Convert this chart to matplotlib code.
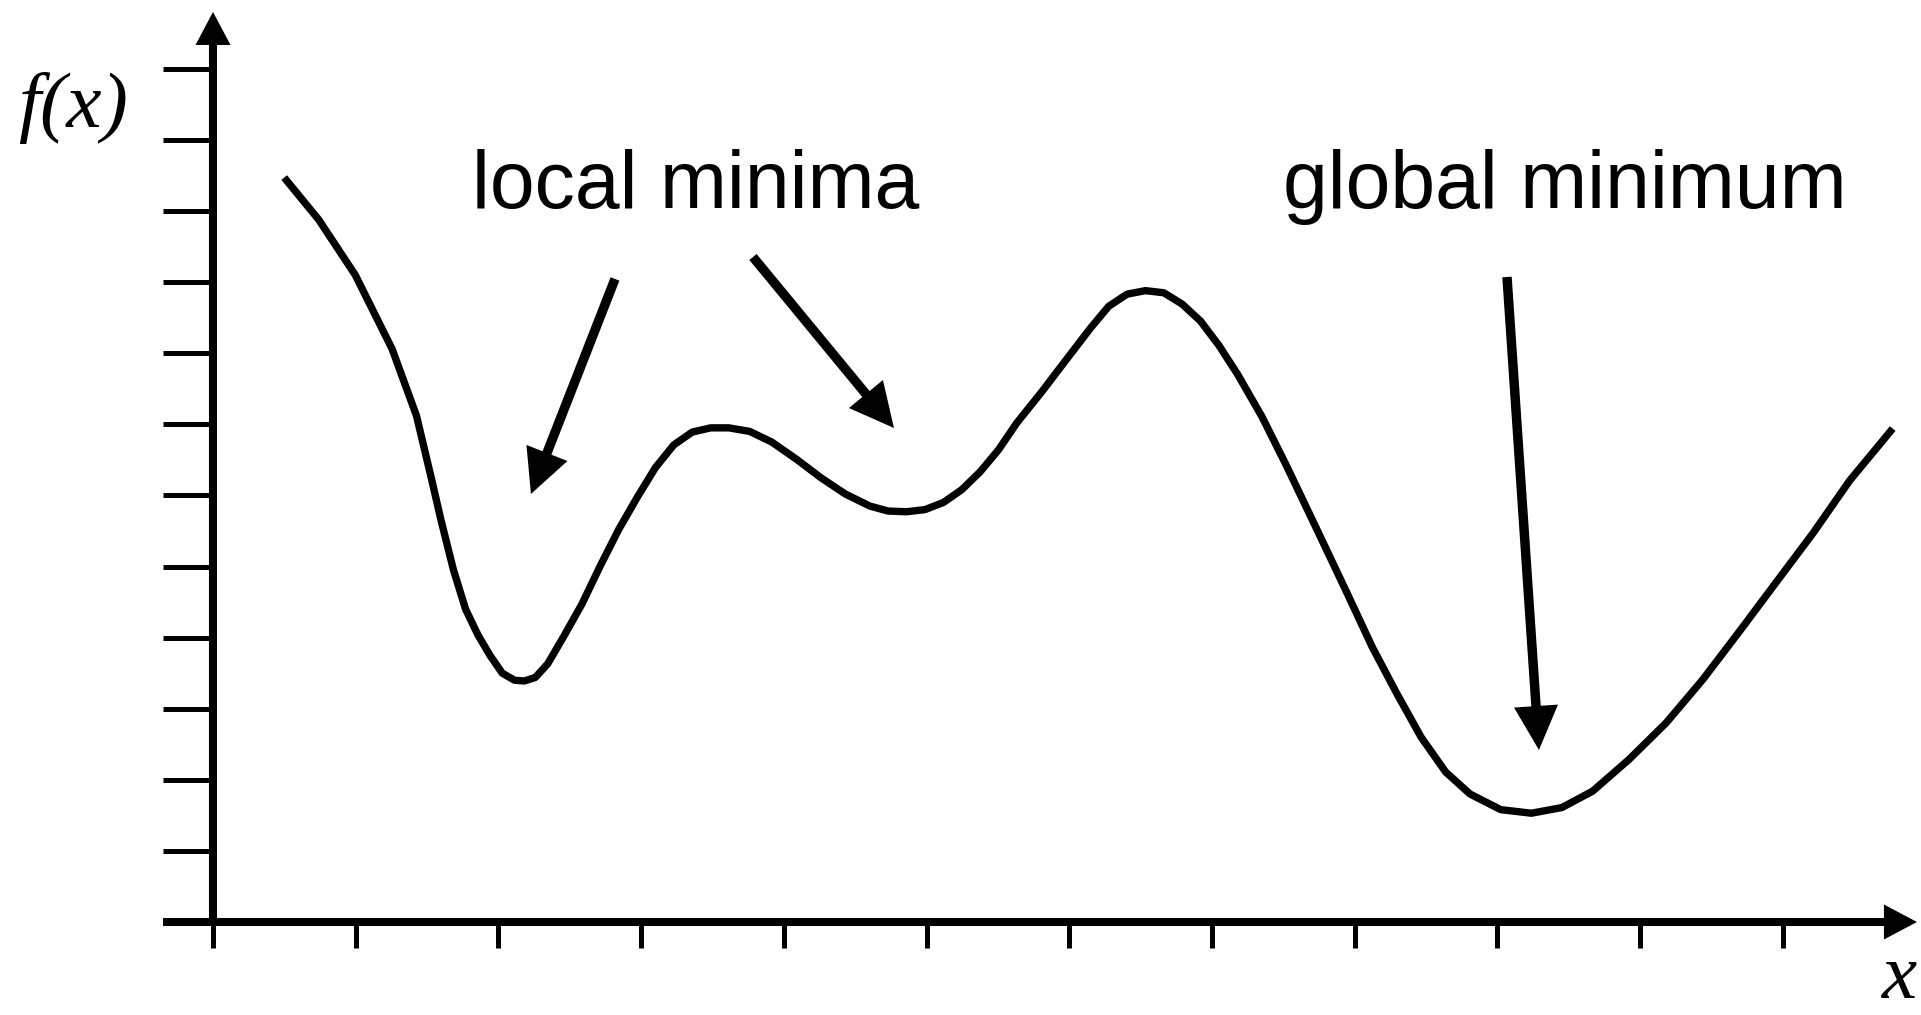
import matplotlib
matplotlib.use("Agg")
import matplotlib.pyplot as plt
import numpy as np

# ---- data (in tick units: x ticks 0..11, y ticks 1..12) ----
curve_x = [0.499, 0.740, 0.997, 1.255, 1.426, 1.529, 1.598, 1.684, 1.770, 1.856,
           1.941, 2.027, 2.113, 2.182, 2.259, 2.345, 2.456, 2.585, 2.714, 2.843,
           2.972, 3.100, 3.229, 3.358, 3.487, 3.615, 3.761, 3.916, 4.088, 4.259,
           4.431, 4.603, 4.731, 4.860, 4.989, 5.118, 5.247, 5.375, 5.504, 5.633,
           5.805, 5.976, 6.148, 6.277, 6.405, 6.534, 6.663, 6.792, 6.921, 7.049,
           7.178, 7.350, 7.522, 7.736, 7.951, 8.123, 8.294, 8.466, 8.638, 8.809,
           9.024, 9.239, 9.453, 9.668, 9.925, 10.183, 10.440, 10.698, 10.955,
           11.213, 11.470, 11.771]
curve_y = [10.47, 9.88, 9.10, 8.06, 7.12, 6.25, 5.65, 4.96, 4.40, 4.04,
           3.75, 3.50, 3.40, 3.39, 3.44, 3.63, 4.01, 4.47, 5.01, 5.52,
           5.97, 6.39, 6.71, 6.89, 6.95, 6.95, 6.90, 6.75, 6.51, 6.25,
           6.02, 5.85, 5.78, 5.77, 5.80, 5.90, 6.08, 6.33, 6.64, 7.02,
           7.45, 7.90, 8.35, 8.66, 8.83, 8.88, 8.85, 8.69, 8.45, 8.11,
           7.71, 7.11, 6.42, 5.52, 4.61, 3.87, 3.22, 2.60, 2.11, 1.80,
           1.58, 1.53, 1.61, 1.84, 2.29, 2.80, 3.41, 4.09, 4.78,
           5.47, 6.21, 6.94]

x_ticks = list(range(0, 12))
y_ticks = list(range(1, 13))

labels = ["local minima", "global minimum"]
label_pos = [(1.815, 10.04), (7.498, 10.04)]

# annotation arrows: (start, tip)
arrow_start = [(2.817, 9.044), (3.784, 9.353), (9.068, 9.072)]
arrow_tip = [(2.228, 6.020), (4.772, 6.948), (9.292, 2.419)]

# ---- figure ----
fig = plt.figure(figsize=(19.21, 10.15), dpi=100)
ax = fig.add_axes([0, 0, 1, 1])
ax.set_xlim(-213 / 142.7, (1921 - 213) / 142.7)
ax.set_ylim((922 - 1015) / 71.1, 922 / 71.1)

for s in ax.spines.values():
    s.set_visible(False)
ax.spines['left'].set_position(('data', 0))
ax.spines['bottom'].set_position(('data', 0))
ax.set_xticks(x_ticks)
ax.set_yticks(y_ticks)
ax.set_xticklabels([])
ax.set_yticklabels([])
ax.tick_params(axis='y', direction='out', length=36, width=3.6, color='black')
ax.tick_params(axis='x', direction='out', length=18.7, width=3.6, color='black')

# axes with arrow heads
axis_style = "simple,head_length=23.8,head_width=25.2,tail_width=5.8"
ax.annotate("", xy=(11.941, 0), xytext=(-0.35, 0),
            arrowprops=dict(arrowstyle=axis_style, mutation_scale=1, lw=0,
                            color='black', shrinkA=0, shrinkB=0))
ax.annotate("", xy=(0, 12.80), xytext=(0, -0.03),
            arrowprops=dict(arrowstyle=axis_style, mutation_scale=1, lw=0,
                            color='black', shrinkA=0, shrinkB=0))

# the curve
ax.plot(curve_x, curve_y, color='black', lw=5.3, solid_capstyle='butt',
        solid_joinstyle='round')

# annotation arrows
ann_style = "simple,head_length=31.7,head_width=31.7,tail_width=6.8"
for (sx, sy), (tx, ty) in zip(arrow_start, arrow_tip):
    ax.annotate("", xy=(tx, ty), xytext=(sx, sy),
                arrowprops=dict(arrowstyle=ann_style, mutation_scale=1, lw=0,
                                color='black', shrinkA=0, shrinkB=0))

for txt, (lx, ly) in zip(labels, label_pos):
    ax.text(lx, ly, txt, fontsize=58, family='Liberation Sans',
            ha='left', va='baseline', color='black')

ax.text(-1.367, 11.18, "f(x)", fontsize=57, family='Liberation Serif',
        style='italic', ha='left', va='baseline')
ax.text(11.696, -1.07, "x", fontsize=57, family='Liberation Serif',
        style='italic', ha='left', va='baseline')

fig.savefig("out.png", dpi=100, facecolor='white')
